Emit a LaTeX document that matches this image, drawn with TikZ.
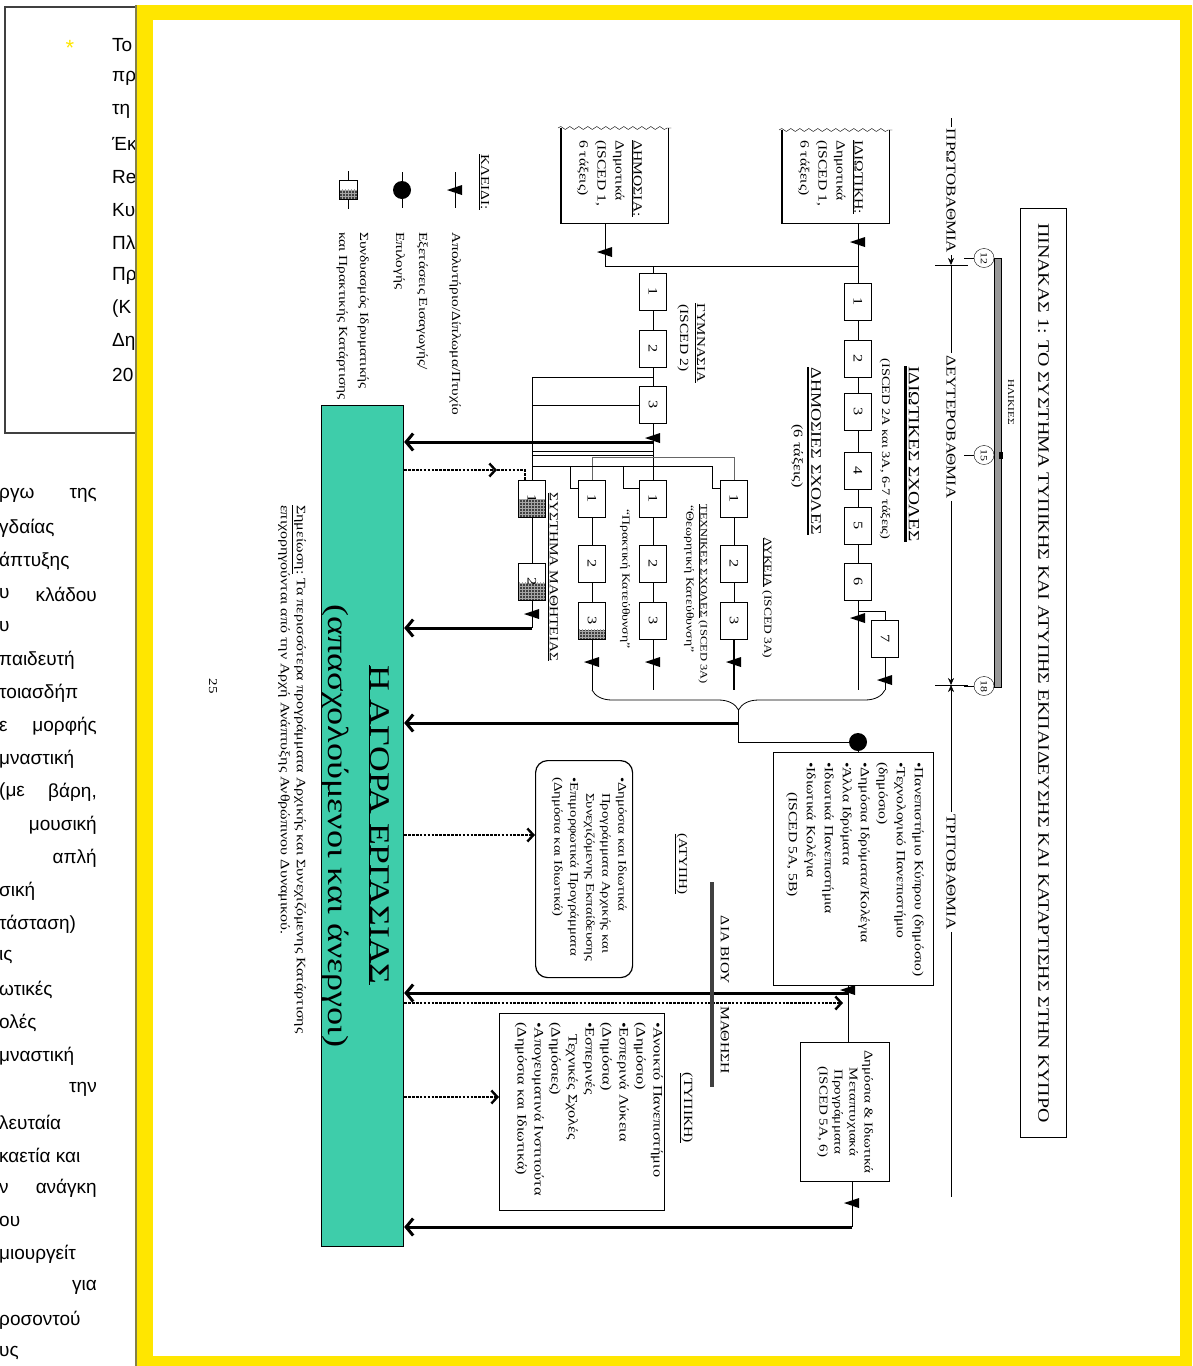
\documentclass[tikz,border=0pt]{standalone}
\usepackage{graphicx}
\usepackage{fontspec}
\setmainfont{Liberation Serif}
\newfontfamily\dgfont{Liberation Serif}[FakeStretch=1.25]
\newfontfamily\lpfont{Liberation Sans}
\usetikzlibrary{arrows.meta,positioning,shapes.geometric,decorations.pathreplacing,decorations.pathmorphing,patterns}
\definecolor{frameyellow}{RGB}{255,230,0}
\definecolor{marketteal}{RGB}{62,205,170}
\newcommand\yr[1]{\rotatebox{-90}{#1}}
\newcommand\fsz[2]{\fontsize{#1}{#2}\selectfont}

\begin{document}
\begin{tikzpicture}[x=1pt,y=-1pt,>=Stealth,
 every node/.style={inner sep=0pt},
 rt/.style={rotate=-90,align=left},
 yearbox/.style={draw,line width=0.8pt,fill=white,minimum width=27pt,minimum height=37pt,font=\dgfont\fsz{13}{13}},
 hatch/.style={path picture={\fill[black!75] (path picture bounding box.south west) rectangle ([yshift=#1]path picture bounding box.south east);\fill[pattern=grid,pattern color=black!35] (path picture bounding box.south west) rectangle ([yshift=#1]path picture bounding box.south east);}},
 bigarrow/.style={line width=3pt,-{Straight Barb[length=7pt,width=17pt]}},
 dotline/.style={line width=2.4pt,dash pattern=on 2.6pt off 1.3pt},
 dotarrow/.style={dotline,-{Straight Barb[length=6pt,width=13pt]}},
 lvtip/.style={-{Stealth[length=7pt,width=6pt]}},
 col/.style={line width=0.8pt},
 gradmark/.pic={\fill (-8,0) -- (7,-5) -- (7,5) -- cycle;}]
\useasboundingbox (0,0) rectangle (1192,1366);

\begin{scope}[nodes={font=\lpfont\fsz{19}{19}}]
\clip (0,0) rectangle (135,1366);
\draw[line width=1.3pt,black!75] (5,7) rectangle (160,433);
\node[text=frameyellow,font=\lpfont\fsz{22}{22}] (star) at (70,48) {*};
\node[anchor=west] (u1) at (112,45) {Το}; \node[anchor=west] (u2) at (112,78) {πρ}; \node[anchor=west] (u3) at (112,111) {τη};
\node[anchor=west] (u4) at (112,144) {Έκ}; \node[anchor=west] (u5) at (112,177) {Re}; \node[anchor=west] (u6) at (112,210) {Κυ};
\node[anchor=west] (u7) at (112,243) {Πλ}; \node[anchor=west] (u8) at (112,276) {Πρ}; \node[anchor=west] (u9) at (112,309) {(Κ};
\node[anchor=west] (u10) at (112,342) {Δη}; \node[anchor=west] (u11) at (112,375) {20};
\node[anchor=west] (w1) at (-1,495) {ργω}; \node[anchor=east] (e1) at (97,495) {της};
\node[anchor=west] (w2) at (-1,528) {γδαίας};
\node[anchor=west] (w3) at (-1,561) {άπτυξης};
\node[anchor=west] (w4) at (-1,594) {υ}; \node[anchor=east] (e4) at (97,594) {κλάδου};
\node[anchor=west] (w5) at (-1,627) {υ};
\node[anchor=west] (w6) at (-1,660) {παιδευτή};
\node[anchor=west] (w7) at (-1,693) {τοιασδήπ};
\node[anchor=west] (w8) at (-1,726) {ε}; \node[anchor=east] (e8) at (97,726) {μορφής};
\node[anchor=west] (w9) at (-1,759) {μναστική};
\node[anchor=west] (w10) at (-1,792) {(με}; \node[anchor=east] (e10) at (97,792) {βάρη,};
\node[anchor=east] (e11) at (97,825) {μουσική};
\node[anchor=east] (e12) at (97,858) {απλή};
\node[anchor=west] (w13) at (-1,891) {σική};
\node[anchor=west] (w14) at (-1,924) {τάσταση)};
\node[anchor=west] (w15) at (-1,957) {ις};
\node[anchor=west] (w16) at (-1,990) {ωτικές};
\node[anchor=west] (w17) at (-1,1023) {ολές};
\node[anchor=west] (w18) at (-1,1056) {μναστική};
\node[anchor=east] (e19) at (97,1089) {την};
\node[anchor=west] (w20) at (-1,1122) {λευταία};
\node[anchor=west] (w21) at (-1,1155) {καετία και};
\node[anchor=west] (w22) at (-1,1188) {ν}; \node[anchor=east] (e22) at (97,1188) {ανάγκη};
\node[anchor=west] (w23) at (-1,1221) {ου};
\node[anchor=west] (w24) at (-1,1254) {μιουργείτ};
\node[anchor=east] (e25) at (97,1287) {για};
\node[anchor=west] (w26) at (-1,1320) {ροσοντού};
\node[anchor=west] (w27) at (-1,1353) {υς};
\end{scope}

\fill[frameyellow] (135,5) rectangle (1192,1366);
\fill[white] (153,20) rectangle (1180,1356);
\draw[line width=2pt,yellow!45!black] (136,5) -- (136,1366);

\node[draw,line width=1pt,minimum width=46pt,minimum height=929pt,anchor=north west] (ttlbox) at (1020,208) {};
\node[rt,font=\dgfont\fsz{15.9}{16}] (ttl) at (ttlbox.center) {ΠΙΝΑΚΑΣ 1: ΤΟ ΣΥΣΤΗΜΑ ΤΥΠΙΚΗΣ ΚΑΙ ΑΤΥΠΗΣ ΕΚΠΑΙΔΕΥΣΗΣ ΚΑΙ ΚΑΤΑΡΤΙΣΗΣ ΣΤΗΝ ΚΥΠΡΟ};

\node[draw,line width=0.7pt,fill=black!40,minimum width=7pt,minimum height=429pt,anchor=north west] (agebar) at (994,258) {};
\fill (999,452) rectangle (1003,459);
\node[rt,font=\dgfont\fsz{9}{9}] (agelbl) at (1011,402) {ΗΛΙΚΙΕΣ};
\node[draw,ellipse,fill=white,minimum width=20pt,minimum height=19pt,font=\dgfont\fsz{9.5}{9}] (age12) at (984,258) {\yr{12}};
\node[draw,ellipse,fill=white,minimum width=20pt,minimum height=19pt,font=\dgfont\fsz{9.5}{9}] (age15) at (984,455) {\yr{15}};
\node[draw,ellipse,fill=white,minimum width=20pt,minimum height=19pt,font=\dgfont\fsz{9.5}{9}] (age18) at (984,686) {\yr{18}};
\draw (age12.west) -- ++(-10,0); \draw (age15.west) -- ++(-10,0); \draw (age18.west) -- ++(-10,0);

\coordinate (lvtop) at (951,118); \coordinate (tk1) at (951,265); \coordinate (tk2) at (951,685); \coordinate (lvend) at (951,1197);
\node[rt,inner xsep=2pt,font=\dgfont\fsz{13.5}{14}] (lv1) at (951,191) {ΠΡΩΤΟΒΑΘΜΙΑ};
\node[rt,inner xsep=2pt,font=\dgfont\fsz{13.5}{14}] (lv2) at (951,427) {ΔΕΥΤΕΡΟΒΑΘΜΙΑ};
\node[rt,inner xsep=2pt,font=\dgfont\fsz{13.5}{14}] (lv3) at (951,872) {ΤΡΙΤΟΒΑΘΜΙΑ};
\draw (lvtop) -- (lv1.west); \draw[lvtip] (lv1.east) -- (tk1); \draw (tk1) -- (lv2.west);
\draw[lvtip] (lv2.east) -- (tk2); \draw[lvtip] (lv3.west) -- (tk2); \draw (lv3.east) -- (lvend);
\draw (tk1) +(-16,0) -- +(17,0); \draw (tk2) +(-16,0) -- +(17,0);

\node[minimum width=107pt,minimum height=93pt,anchor=north west] (prv) at (782,130) {};
\draw[line width=1.1pt] (prv.north west) -- (prv.south west) -- (prv.south east) -- (prv.north east);
\draw[decorate,decoration={snake,amplitude=1.5pt,segment length=9pt}] ([xshift=-3pt]prv.north west) -- ([xshift=3pt]prv.north east);
\node[rt,anchor=north west,font=\dgfont\fsz{12.5}{18}] (prvtxt) at (863,140) {\underline{ΙΔΙΩΤΙΚΗ:}\\Δημοτικά\\(ISCED 1,\\6 τάξεις)};
\node[minimum width=107pt,minimum height=95pt,anchor=north west] (pub) at (561,128) {};
\draw[line width=1.1pt] (pub.north west) -- (pub.south west) -- (pub.south east) -- (pub.north east);
\draw[decorate,decoration={snake,amplitude=1.5pt,segment length=9pt}] ([xshift=-3pt]pub.north west) -- ([xshift=3pt]pub.north east);
\node[rt,anchor=north west,font=\dgfont\fsz{12.5}{18}] (pubtxt) at (642,140) {\underline{ΔΗΜΟΣΙΑ:}\\Δημοτικά\\(ISCED 1,\\6 τάξεις)};

\node[rt,font=\dgfont\fsz{15.5}{16}] (pvtl) at (914,454) {ΙΔΙΩΤΙΚΕΣ ΣΧΟΛΕΣ};
\draw[line width=2.5pt] ([xshift=-3pt]pvtl.south west) -- ([xshift=-3pt]pvtl.south east);
\node[rt,font=\dgfont\fsz{11.5}{12}] (pvti) at (885,449) {(ISCED 2A και 3A, 6-7 τάξεις)};
\node[rt,font=\dgfont\fsz{14.5}{15}] (publ) at (816,451) {ΔΗΜΟΣΙΕΣ ΣΧΟΛΕΣ};
\draw[line width=2.5pt] ([xshift=-3pt]publ.south west) -- ([xshift=-3pt]publ.south east);
\node[rt,font=\dgfont\fsz{13}{13}] (pubs) at (797,456) {(6 τάξεις)};
\node[rt,font=\dgfont\fsz{12}{12}] (gyml) at (700,343) {\underline{ΓΥΜΝΑΣΙΑ}};
\node[rt,font=\dgfont\fsz{12.4}{12}] (gymi) at (683,338) {(ISCED 2)};
\node[rt,font=\dgfont\fsz{10.8}{11}] (lykl) at (767,598) {\underline{ΛΥΚΕΙΑ} (ISCED 3A)};
\node[rt,font=\dgfont\fsz{10}{10}] (tecl) at (703,594) {\underline{ΤΕΧΝΙΚΕΣ ΣΧΟΛΕΣ} (ISCED 3A)};
\node[rt,font=\dgfont\fsz{11}{11}] (thel) at (689,579) {“Θεωρητική Κατεύθυνση”};
\node[rt,font=\dgfont\fsz{11}{11}] (prkl) at (625,579) {“Πρακτική Κατεύθυνση”};
\node[rt,font=\dgfont\fsz{12.3}{12}] (appl) at (553,577) {\underline{ΣΥΣΤΗΜΑ ΜΑΘΗΤΕΙΑΣ}};

\node[yearbox] (p1) at (858,302) {\yr{1}}; \node[yearbox] (p2) at (858,359) {\yr{2}}; \node[yearbox] (p3) at (858,412) {\yr{3}};
\node[yearbox] (p4) at (858,471) {\yr{4}}; \node[yearbox] (p5) at (858,526) {\yr{5}}; \node[yearbox] (p6) at (858,582) {\yr{6}};
\node[yearbox] (p7) at (885,639) {\yr{7}};
\node[yearbox] (g1) at (653,292) {\yr{1}}; \node[yearbox] (g2) at (653,349) {\yr{2}}; \node[yearbox] (g3) at (653,405) {\yr{3}};
\node[yearbox,hatch=18pt] (a1) at (532,499) {\raisebox{9pt}{\yr{1}}}; \node[yearbox,hatch=18pt] (a2) at (532,582) {\raisebox{9pt}{\yr{2}}};
\node[yearbox] (b1) at (592,499) {\yr{1}}; \node[yearbox] (b2) at (592,564) {\yr{2}}; \node[yearbox,hatch=10pt] (b3) at (592,621) {\raisebox{4pt}{\yr{3}}};
\node[yearbox] (c1) at (653,499) {\yr{1}}; \node[yearbox] (c2) at (653,564) {\yr{2}}; \node[yearbox] (c3) at (653,621) {\yr{3}};
\node[yearbox] (d1) at (734,499) {\yr{1}}; \node[yearbox] (d2) at (734,564) {\yr{2}}; \node[yearbox] (d3) at (734,621) {\yr{3}};

\node[draw,line width=1.2pt,fill=marketteal,minimum width=82pt,minimum height=841pt,anchor=north west] (lm) at (321,405) {};
\node[rt,font=\dgfont\fsz{28.5}{29}] (lmt1) at (379,825) {\underline{Η ΑΓΟΡΑ ΕΡΓΑΣΙΑΣ}};
\node[rt,font=\dgfont\fsz{29}{29}] (lmt2) at (336,826) {(απασχολούμενοι και άνεργοι)};
\node[rt,anchor=north west,font=\dgfont\fsz{12.8}{16}] (note) at (306,505) {\underline{Σημείωση:} Τα περισσότερα προγράμματα Αρχικής και Συνεχιζόμενης Κατάρτισης\\επιχορηγούνται από την Αρχή Ανάπτυξης Ανθρώπινου Δυναμικού.};
\node[rt,font=\dgfont\fsz{12}{12}] (pgnum) at (213,686) {25};

\coordinate (pubout) at (605,223); \coordinate (pubjn) at (605,266); \coordinate (gymjn) at (653,266);
\coordinate (prvout) at (858,223); \coordinate (prvjn) at (858,266);
\draw[col] (pubout) -- (pubjn) -- (prvjn); \pic at (605,252) {gradmark};
\draw[col] (prvout) -- (p1); \pic at (858,242) {gradmark};
\draw[col] (gymjn) -- (g1); \draw[col] (g1) -- (g2) -- (g3);
\draw[col] (p1) -- (p2) -- (p3) -- (p4) -- (p5) -- (p6);
\draw[col] (g3) -- (c1); \pic at (653,438) {gradmark};
\coordinate (gymx) at (653,442); \draw[bigarrow] (gymx) -- (lm.east |- gymx);

\coordinate (ap0) at (532,377); \coordinate (ap1) at (532,405); \coordinate (ap2) at (532,451); \coordinate (ap3) at (532,455);
\draw[col] (ap0) -- (ap0 -| g2); \draw[col] (ap1) -- (g3.west);
\draw[col] (ap2) -- (ap2 -| g3); \draw[col] (ap3) -- (ap3 -| g3); \draw[col] (ap0) -- (a1);
\coordinate (apdot) at (497,470); \draw[dotarrow] (lm.east |- apdot) -- (apdot);
\draw[dotline,line width=1.6pt] (apdot) -- ++(28,0) -- ++(0,10);
\draw[col] (a1) -- (a2); \coordinate (apout) at (532,628); \draw[col] (a2) -- (apout); \pic at (532,614) {gradmark};
\draw[bigarrow] (apout) -- (lm.east |- apout);

\coordinate (djn) at (734,457);
\draw[col,black!60] (b1.north) |- (djn) -- (d1.north);
\coordinate (ljn) at (532,466); \coordinate (lend) at (712,466); \coordinate (lb) at (570,466); \coordinate (lc) at (623,466);
\draw[col] (ljn) -- (lend) |- ([yshift=11pt]d1.west);
\draw[col] (lb) |- ([yshift=11pt]b1.west); \draw[col] (lc) |- ([yshift=11pt]c1.west);
\draw[col] (b1) -- (b2) -- (b3); \draw[col] (c1) -- (c2) -- (c3); \draw[col] (d1) -- (d2) -- (d3);

\coordinate (bb) at (592,690); \coordinate (cb) at (653,690); \coordinate (db) at (734,690); \coordinate (pb) at (858,690); \coordinate (qb) at (885,690);
\draw[col] (b3) -- (bb); \pic at (592,662) {gradmark};
\draw[col] (c3) -- (cb); \pic at (653,662) {gradmark};
\draw[col,line width=1.2pt] (d3) -- (db); \pic at (734,662) {gradmark};
\coordinate (p7jn) at (858,611); \draw[col] (p6) -- (pb); \draw[col] (p7jn) -| (p7); \pic at (858,618) {gradmark};
\draw[col] (p7) -- (qb); \pic at (885,680) {gradmark};
\draw[col,decorate,decoration={brace,amplitude=20pt,mirror}] (bb) -- (qb);

\node[draw,line width=1.2pt,minimum width=160pt,minimum height=233pt,anchor=north west] (ter) at (773,752) {};
\node[rt,anchor=north west,font=\dgfont\fsz{12.5}{18}] (tertxt) at (924,762) {•Πανεπιστήμιο Κύπρου (δημόσιο)\\•Τεχνολογικό Πανεπιστήμιο\\(δημόσιο)\\•Δημόσια Ιδρύματα/Κολέγια\\•Άλλα Ιδρύματα\\•Ιδιωτικά Πανεπιστήμια\\•Ιδιωτικά Κολέγια\\\hspace*{30pt}(ISCED 5A, 5B)};
\coordinate (tip) at (738.5,710); \coordinate (tipx) at (738.5,723); \coordinate (tipc) at (738.5,742);
\node[circle,fill,minimum size=18pt] (dot) at (858,742) {};
\draw[col] (tip) -- (tipc) -- (dot); \draw[col] (dot) -- (ter.north -| dot);
\draw[bigarrow] (tipx) -- (lm.east |- tipx);

\node[draw,line width=1pt,minimum width=89pt,minimum height=139pt,anchor=north west] (pg) at (800,1042) {};
\node[rt,align=center,font=\dgfont\fsz{12}{15}] (pgtxt) at (pg.center) {Δημόσια \& Ιδιωτικά\\Μεταπτυχιακά\\Προγράμματα\\(ISCED 5A, 6)};
\coordinate (tx) at (848,993); \coordinate (ddot) at (843,1003); \coordinate (pgout) at (852,1227);
\draw[col] (ter.south -| tx) -- (pg.north -| tx); \pic at (848,990) {gradmark};
\draw[bigarrow] (tx) -- (lm.east |- tx);
\draw[dotarrow] (lm.east |- ddot) -- (ddot);
\draw[col] (pg.south -| pgout) -- (pgout); \pic at (852,1203) {gradmark};
\draw[bigarrow] (pgout) -- (lm.east |- pgout);

\node[draw,rounded corners=12pt,line width=1.2pt,minimum width=97pt,minimum height=217pt,anchor=north west] (inf) at (535,760) {};
\node[rt,anchor=north west,font=\dgfont\fsz{11.8}{16}] (inftxt) at (627,777) {•Δημόσια και Ιδιωτικά\\\hspace*{16pt}Προγράμματα Αρχικής και\\\hspace*{16pt}Συνεχιζόμενης Εκπαίδευσης\\•Επιμορφωτικά Προγράμματα\\(Δημόσια και Ιδιωτικά)};
\coordinate (infin) at (535,835); \draw[dotarrow] (lm.east |- infin) -- (infin);

\node[draw,line width=1.2pt,minimum width=165pt,minimum height=197pt,anchor=north west] (frm) at (499,1013) {};
\node[rt,anchor=north west,font=\dgfont\fsz{13}{17}] (frmtxt) at (663,1022) {•Ανοικτό Πανεπιστήμιο\\(Δημόσιο)\\•Εσπερινά Λύκεια\\(Δημόσια)\\•Εσπερινές\\\hspace*{12pt}Τεχνικές Σχολές\\(Δημόσιες)\\•Απογευματινά Ινστιτούτα\\(Δημόσια και Ιδιωτικά)};
\coordinate (frmin) at (499,1097); \draw[dotarrow] (lm.east |- frmin) -- (frmin);

\coordinate (llt) at (712,882); \coordinate (llb) at (712,1087);
\draw[line width=4pt,black!75] (llt) -- (llb);
\node[rt,anchor=east,font=\dgfont\fsz{12.5}{13}] (ll1) at (725,984) {ΔΙΑ ΒΙΟΥ};
\node[rt,anchor=west,font=\dgfont\fsz{12.5}{13}] (ll2) at (725,1006) {ΜΑΘΗΣΗ};
\node[rt,font=\dgfont\fsz{12}{12}] (atyp) at (681,864) {\underline{(ΑΤΥΠΗ)}};
\node[rt,font=\dgfont\fsz{12.5}{12}] (typ) at (686,1108) {\underline{(ΤΥΠΙΚΗ)}};

\node[rt,font=\dgfont\fsz{12.2}{12}] (key) at (484,182) {\underline{ΚΛΕΙΔΙ:}};
\coordinate (keyg) at (455,190); \draw (keyg) ++(0,-18) -- ++(0,36); \pic at (keyg) {gradmark};
\node[rt,anchor=north west,font=\dgfont\fsz{12.3}{22}] (keyt1) at (461,232) {Απολυτήριο/Δίπλωμα/Πτυχίο};
\node[circle,fill,minimum size=18pt] (keydot) at (402,190) {};
\draw (keydot.north) -- ++(0,-9); \draw (keydot.south) -- ++(0,9);
\node[rt,anchor=north west,font=\dgfont\fsz{12.3}{23}] (keyt2) at (428,232) {Εξετάσεις Εισαγωγής/\\Επιλογής};
\node[draw,fill=white,minimum width=18pt,minimum height=19pt,hatch=10pt] (keyhb) at (348,190) {};
\draw (keyhb.north) -- ++(0,-9); \draw (keyhb.south) -- ++(0,9);
\node[rt,anchor=north west,font=\dgfont\fsz{12.3}{21}] (keyt3) at (369,232) {Συνδυασμός Ιδρυματικής\\και Πρακτικής Κατάρτισης};
\end{tikzpicture}
\end{document}
